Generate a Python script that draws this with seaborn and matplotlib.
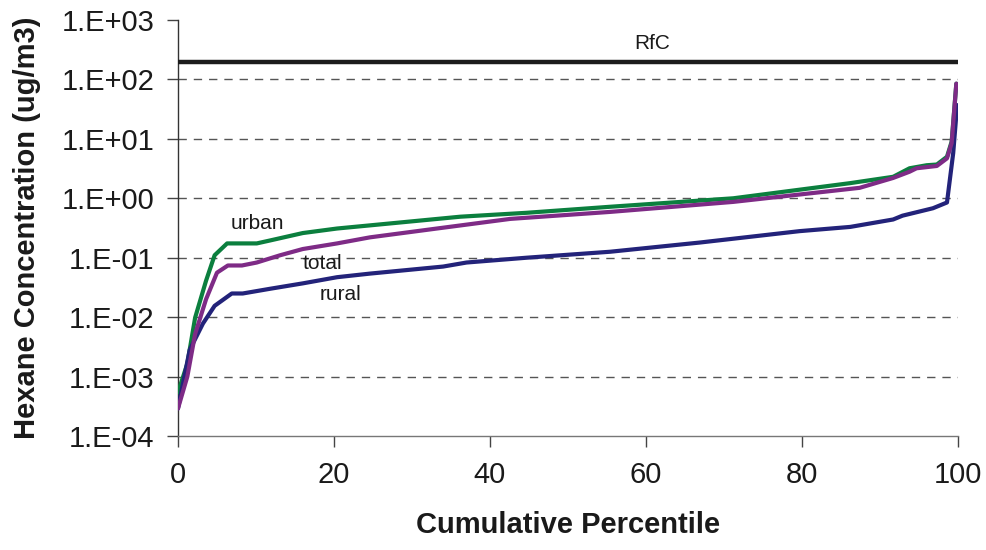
import numpy as np
import pandas as pd
import matplotlib
matplotlib.use("Agg")
import matplotlib.pyplot as plt
import seaborn as sns
from matplotlib.ticker import FixedLocator, FuncFormatter, NullLocator

# ---- data ----
urban_x = [0, 1.2, 2.2, 3.6, 4.7, 6.3, 10.1, 11.8, 16, 20.4, 24.6, 36.2, 44.7,
           55.4, 71.2, 86.2, 91.7, 93.8, 96, 97.3, 98.6, 99.2, 99.8]
urban_y = [5.4e-4, 1.65e-3, 9.8e-3, 0.041, 0.11, 0.174, 0.174, 0.195, 0.26, 0.31,
           0.35, 0.49, 0.57, 0.72, 1.0, 1.8, 2.3, 3.2, 3.6, 3.7, 5.0, 9.0, 85]

total_x = [0, 1.2, 2.2, 3.6, 5.0, 6.4, 8.2, 10.1, 13.1, 16, 20.4, 24.6, 34, 42.6,
           55.4, 71.2, 87.4, 91.7, 93.8, 94.7, 97.3, 98.6, 99.2, 99.8]
total_y = [2.9e-4, 1.0e-3, 5.2e-3, 0.020, 0.056, 0.074, 0.074, 0.083, 0.11, 0.14,
           0.174, 0.22, 0.32, 0.45, 0.59, 0.87, 1.5, 2.2, 2.8, 3.2, 3.5, 4.7, 8.5, 85]

rural_x = [0, 1.5, 3.2, 4.7, 6.9, 8.3, 11.8, 16, 20.4, 24.6, 34, 37, 44.7, 55.4,
           66.9, 79.7, 86.2, 91.7, 92.9, 96.8, 98.6, 99.4, 99.9]
rural_y = [2.9e-4, 2.8e-3, 7.8e-3, 0.0155, 0.025, 0.025, 0.030, 0.037, 0.047, 0.054,
           0.071, 0.083, 0.10, 0.126, 0.18, 0.28, 0.33, 0.44, 0.51, 0.68, 0.85, 5.8, 37]

rfc_x = [0, 100]
rfc_y = [200, 200]

series_names = ["urban", "total", "rural"]
series_colors = {"urban": "#0b7f3e", "total": "#7e2b86", "rural": "#23237a"}

x_ticks = [0, 20, 40, 60, 80, 100]
y_ticks = [1e-4, 1e-3, 1e-2, 1e-1, 1e0, 1e1, 1e2, 1e3]

# label anchors (data coords)
label_pos = {"urban": (10.2, 0.38), "total": (18.5, 0.079), "rural": (20.8, 0.024),
             "RfC": (60.8, 400)}

df = pd.concat([
    pd.DataFrame({"x": urban_x, "y": urban_y, "series": "urban"}),
    pd.DataFrame({"x": total_x, "y": total_y, "series": "total"}),
    pd.DataFrame({"x": rural_x, "y": rural_y, "series": "rural"}),
], ignore_index=True)
rfc_df = pd.DataFrame({"x": rfc_x, "y": rfc_y})

sns.set_theme(style="white")
plt.rcParams["font.family"] = ["Liberation Sans", "DejaVu Sans"]

fig = plt.figure(figsize=(9.86, 5.5), dpi=100)
ax = fig.add_axes([0.1805, 0.2073, 0.791, 0.7563])
ax.set_yscale("log")

# gridlines
for v in y_ticks[1:-1]:
    ax.axhline(v, color="#555555", lw=1.0, ls=(0, (6, 5)), zorder=0)

sns.lineplot(data=rfc_df, x="x", y="y", ax=ax, color="#1c1c1c", lw=3.2,
             legend=False, zorder=3)
sns.lineplot(data=df, x="x", y="y", hue="series", hue_order=series_names,
             palette=series_colors, ax=ax, lw=3.0, legend=False, sort=False,
             estimator=None, zorder=4)
ax.lines[-3].set_zorder(4)
ax.lines[-2].set_zorder(5)

ax.set_xlim(0, 100)
ax.set_ylim(1e-4, 1e3)
ax.xaxis.set_major_locator(FixedLocator(x_ticks))
ax.yaxis.set_major_locator(FixedLocator(y_ticks))
ax.yaxis.set_minor_locator(NullLocator())
ax.yaxis.set_major_formatter(FuncFormatter(lambda v, p: f"1.E{int(round(np.log10(v))):+03d}"))

ax.tick_params(axis="both", which="major", direction="out", length=8, width=1,
               color="#444444", labelsize=21, labelcolor="#1a1a1a", pad=9,
               left=True, bottom=True)
ax.tick_params(axis="x", pad=10)

for s in ["top", "right"]:
    ax.spines[s].set_visible(False)
ax.spines["left"].set_color("#333333")
ax.spines["bottom"].set_color("#777777")
ax.spines["left"].set_linewidth(1.0)
ax.spines["bottom"].set_linewidth(1.0)

ax.set_xlabel("Cumulative Percentile", fontsize=21, fontweight="bold",
              color="#1a1a1a", labelpad=16)
ax.set_ylabel("Hexane Concentration (ug/m3)", fontsize=21, fontweight="bold",
              color="#1a1a1a", labelpad=15)

for name, (lx, ly) in label_pos.items():
    ax.text(lx, ly, name, fontsize=15, color="#1a1a1a", ha="center", va="center")

fig.savefig("out.png", dpi=100)
